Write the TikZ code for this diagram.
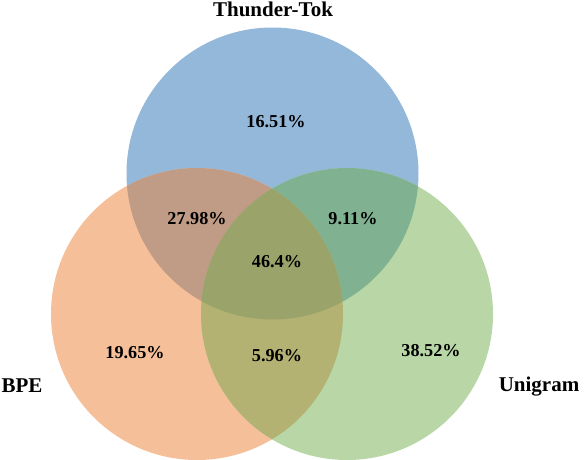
\documentclass[tikz,border=0pt]{standalone}
\usepackage{fontspec}
\setmainfont{Liberation Serif}
\definecolor{cB}{HTML}{93B8DA}
\definecolor{cO}{HTML}{F5BF9A}
\definecolor{cG}{HTML}{B8D6A6}
\definecolor{cBO}{HTML}{C09B85}
\definecolor{cBG}{HTML}{80B292}
\definecolor{cOG}{HTML}{B3B273}
\definecolor{cBOG}{HTML}{99A36A}
\begin{document}
\begin{tikzpicture}[x=1pt,y=-1pt,
  lbl/.style={font=\bfseries\fontsize{18.2}{18.2}\selectfont, anchor=base, inner sep=0pt},
  ttl/.style={font=\bfseries\fontsize{21}{21}\selectfont, anchor=base, inner sep=0pt}]
\useasboundingbox (0,0) rectangle (584,460);
\def\blue{(272.5,173.5) circle[radius=146]}
\def\orng{(197,314) circle[radius=146]}
\def\grn{(347,314) circle[radius=146]}
\begin{scope}
\clip (0,0) rectangle (584,460);
\fill[cB] \blue;
\fill[cO] \orng;
\fill[cG] \grn;
\begin{scope}\clip \blue; \fill[cBO] \orng;\end{scope}
\begin{scope}\clip \blue; \fill[cBG] \grn;\end{scope}
\begin{scope}\clip \orng; \fill[cOG] \grn;\end{scope}
\begin{scope}\clip \blue; \clip \orng; \fill[cBOG] \grn;\end{scope}
\end{scope}
\node[ttl] (tB) at (273,17) {Thunder-Tok};
\node[ttl] (tO) at (22,392) {BPE};
\node[ttl] (tG) at (539,391) {Unigram};
\node[lbl] (nB) at (276,127) {16.51\%};
\node[lbl] (nBO) at (197,224) {27.98\%};
\node[lbl] (nBG) at (353,224) {9.11\%};
\node[lbl] (nBOG) at (277,267) {46.4\%};
\node[lbl] (nO) at (135,358) {19.65\%};
\node[lbl] (nOG) at (277,361) {5.96\%};
\node[lbl] (nG) at (431,356) {38.52\%};
\end{tikzpicture}
\end{document}
